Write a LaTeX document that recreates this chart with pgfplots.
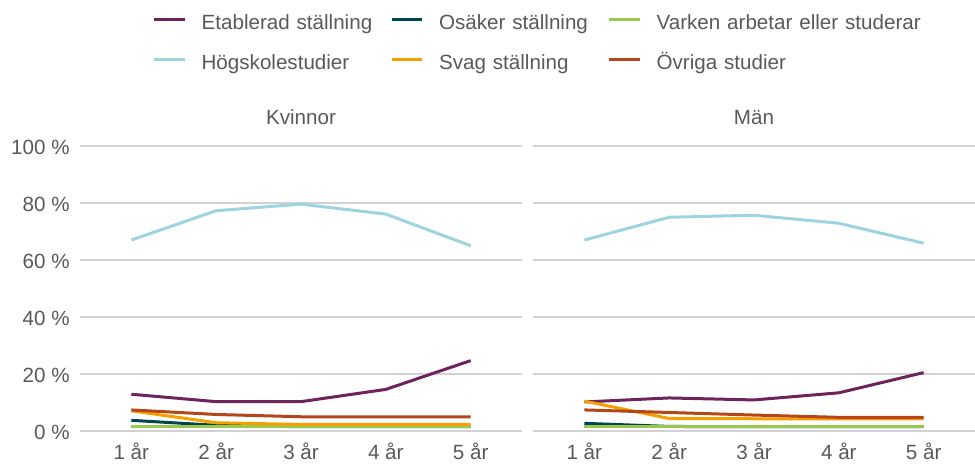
\documentclass[border=0pt]{standalone}
\usepackage{fontspec}
\setmainfont{Liberation Sans}
\usepackage{pgfplots}
\usepackage{pgfplotstable}
\pgfplotsset{compat=1.18}

\definecolor{cEtab}{RGB}{110,35,90}
\definecolor{cOsak}{RGB}{0,70,80}
\definecolor{cVark}{RGB}{155,200,80}
\definecolor{cHogs}{RGB}{157,212,223}
\definecolor{cSvag}{RGB}{245,160,0}
\definecolor{cOvri}{RGB}{180,70,25}
\definecolor{txt}{RGB}{89,89,89}
\definecolor{gridc}{RGB}{210,210,210}

\pgfplotstableread{
x Etab Osak Vark Hogs Svag Ovri
1 12.9 3.75 1.5 67.0 7.1 7.4
2 10.3 2.0 1.5 77.3 2.9 5.8
3 10.3 1.5 1.5 79.6 2.3 5.0
4 14.6 1.5 1.5 76.1 2.3 5.0
5 24.7 1.5 1.5 65.0 2.3 5.0
}\kvinnor

\pgfplotstableread{
x Etab Osak Vark Hogs Svag Ovri
1 10.2 2.7 1.5 67.0 10.5 7.4
2 11.6 1.6 1.5 75.0 4.4 6.5
3 10.9 1.5 1.5 75.7 4.3 5.6
4 13.4 1.5 1.5 72.9 4.3 4.8
5 20.5 1.5 1.5 65.9 4.3 4.8
}\man

\newcommand{\fnt}{\fontsize{10.3}{12.4}\selectfont}

\pgfplotsset{
  panel/.style={
    scale only axis,
    width=221pt, height=142.5pt,
    anchor=south west,
    xmin=0.395, xmax=5.605,
    ymin=0, ymax=100,
    xtick={1,2,3,4,5},
    xticklabels={1 år,2 år,3 år,4 år,5 år},
    ytick={0,20,40,60,80,100},
    ymajorgrids=true,
    major grid style={color=gridc, line width=0.65pt},
    axis x line*=bottom, axis y line*=left,
    axis line style={draw=none},
    major tick length=0pt,
    tick style={draw=none},
    clip=false,
    /pgf/number format/assume math mode=true,
    tick label style={font=\fnt, text=txt},
    xticklabel style={anchor=base, inner sep=0pt, yshift=-14pt},
    yticklabel style={anchor=east, inner sep=0pt, xshift=-5pt, yshift=-0.6pt},
    title style={font=\fnt, text=txt, at={(0.5,1)}, anchor=base, inner sep=0pt, yshift=4.65pt},
    every axis plot/.append style={line width=1.5pt, line join=round},
  },
}

\begin{document}
\begin{tikzpicture}[font=\fnt]
\useasboundingbox (0,0) rectangle (487.5pt,231.5pt);

\begin{axis}[panel,
  at={(40pt,16pt)},
  title={Kvinnor},
  yticklabel={\pgfmathprintnumber{\tick}\ \%},
  legend columns=3,
  legend cell align=left,
  legend image code/.code={\draw[#1, line width=1.5pt] (0pt,2.45pt) -- (15.25pt,2.45pt);},
  legend style={draw=none, fill=none, inner sep=0pt, outer sep=0pt,
    at={(0.1650,1.4628)}, anchor=north west,
    row sep=10.2pt, column sep=0pt,
    /tikz/every odd column/.append style={column sep=7.6pt},
    /tikz/every even column/.append style={column sep=0pt},
    font=\fnt, text=txt,
    nodes={inner sep=0pt, text height=7.6pt, text depth=2.2pt, align=left}},
]
\addplot[cEtab] table[x=x,y=Etab] {\kvinnor};
\addlegendentry[text width=94.4pt]{Etablerad ställning}
\addplot[cOsak] table[x=x,y=Osak] {\kvinnor};
\addlegendentry[text width=84.4pt]{Osäker ställning}
\addplot[cVark] table[x=x,y=Vark] {\kvinnor};
\addlegendentry[text width=140pt]{Varken arbetar eller studerar}
\addplot[cHogs] table[x=x,y=Hogs] {\kvinnor};
\addlegendentry[text width=94.4pt]{Högskolestudier}
\addplot[cSvag] table[x=x,y=Svag] {\kvinnor};
\addlegendentry[text width=84.4pt]{Svag ställning}
\addplot[cOvri] table[x=x,y=Ovri] {\kvinnor};
\addlegendentry[text width=140pt]{Övriga studier}
\end{axis}

\begin{axis}[panel,
  at={(266.5pt,16pt)},
  title={Män},
  yticklabels={},
]
\addplot[cEtab] table[x=x,y=Etab] {\man};
\addplot[cOsak] table[x=x,y=Osak] {\man};
\addplot[cVark] table[x=x,y=Vark] {\man};
\addplot[cHogs] table[x=x,y=Hogs] {\man};
\addplot[cSvag] table[x=x,y=Svag] {\man};
\addplot[cOvri] table[x=x,y=Ovri] {\man};
\end{axis}
\end{tikzpicture}
\end{document}
